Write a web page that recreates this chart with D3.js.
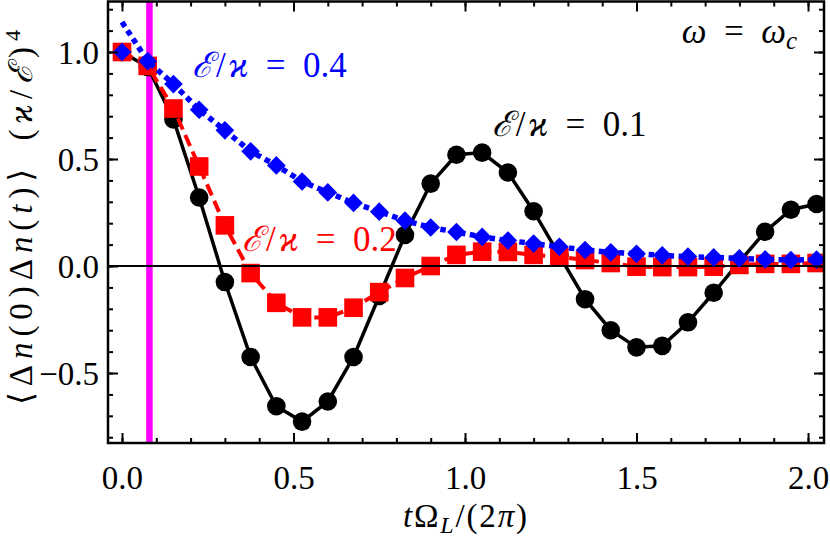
<!DOCTYPE html>
<html>
<head>
<meta charset="utf-8">
<script src="https://cdn.jsdelivr.net/npm/d3@7"></script>
<style>
  body { margin: 0; background: #fff; }
</style>
</head>
<body>
<script>
// time grid t*Omega_L/(2 pi)
var tValues = [0, 0.075, 0.15, 0.225, 0.3, 0.375, 0.45, 0.525, 0.6, 0.675, 0.75, 0.825, 0.9, 0.975,
    1.05, 1.125, 1.2, 1.275, 1.35, 1.425, 1.5, 1.575, 1.65, 1.725, 1.8, 1.875, 1.95, 2.025]

// E/kappa = 0.1 (black circles)
var black01 = [1.0, 0.93, 0.685, 0.32, -0.075, -0.425, -0.655, -0.727, -0.633, -0.425, -0.14, 0.145, 0.385, 0.52,
    0.53, 0.437, 0.256, 0.05, -0.155, -0.3, -0.38, -0.373, -0.263, -0.125, 0.02, 0.16, 0.263, 0.29]

// E/kappa = 0.2 (red squares)
var red02 = [1.0, 0.935, 0.736, 0.465, 0.19, -0.033, -0.172, -0.24, -0.24, -0.195, -0.122, -0.056, 0.0, 0.052,
    0.067, 0.066, 0.052, 0.044, 0.028, 0.014, -0.003, -0.005, -0.005, -0.003, 0.005, 0.01, 0.01, 0.014]

// E/kappa = 0.4 (blue diamonds)
var blue04 = [1.0, 0.957, 0.85, 0.73, 0.634, 0.536, 0.47, 0.395, 0.344, 0.295, 0.254, 0.212, 0.18, 0.159,
    0.136, 0.119, 0.105, 0.09, 0.075, 0.064, 0.057, 0.05, 0.044, 0.04, 0.036, 0.031, 0.028, 0.03]
// the dotted blue curve starts above the first diamond
var blueCurveStart = 1.14

var markerLine = 0.08
var xMajorTicks = [0, 0.5, 1.0, 1.5, 2.0]
var yMajorTicks = [-0.5, 0, 0.5, 1.0]

var FONT = '"Liberation Serif", "DejaVu Serif", serif'
var SP = "\u2002" // en space, for the math-like gaps round "="
var HS = "\u200A" // hair space

var margin = { top: 1.5, right: 6, bottom: 97, left: 108 }
var W = 830, H = 540
var width = W - margin.left - margin.right
var height = H - margin.top - margin.bottom

var xScale = d3.scaleLinear()
    .domain([-0.0408, 2.0466])
    .range([margin.left, margin.left + width])

var yScale = d3.scaleLinear()
    .domain([-0.827, 1.236])
    .range([margin.top + height, margin.top])

var svg = d3.select("body").append("svg")
    .attr("width", W)
    .attr("height", H)

svg.append("defs").append("clipPath").attr("id", "plotclip")
    .append("rect")
    .attr("x", margin.left).attr("y", margin.top)
    .attr("width", width).attr("height", height)

var plot = svg.append("g").attr("clip-path", "url(#plotclip)")

// magenta marker line
plot.append("line")
    .attr("x1", xScale(markerLine)).attr("x2", xScale(markerLine))
    .attr("y1", margin.top).attr("y2", margin.top + height)
    .style("stroke", "#ff00ff")
    .style("stroke-width", 6.5)

var line = d3.line()
    .x(d => xScale(d.t))
    .y(d => yScale(d.v))

function toPoints(vals) {
    return vals.map((v, i) => ({ t: tValues[i], v: v }))
}

// black
plot.append("path")
    .datum(toPoints(black01))
    .attr("d", line)
    .style("fill", "none").style("stroke", "#000").style("stroke-width", 3.5)
plot.selectAll(".circ").data(toPoints(black01)).enter().append("circle")
    .attr("cx", d => xScale(d.t)).attr("cy", d => yScale(d.v))
    .attr("r", 9.3)
    .style("fill", "#000")

// red
plot.append("path")
    .datum(toPoints(red02))
    .attr("d", line)
    .style("fill", "none").style("stroke", "#ff0000").style("stroke-width", 4)
    .style("stroke-dasharray", "12,6")
plot.selectAll(".sq").data(toPoints(red02)).enter().append("rect")
    .attr("x", d => xScale(d.t) - 9.3).attr("y", d => yScale(d.v) - 9.3)
    .attr("width", 18.6).attr("height", 18.6)
    .style("fill", "#ff0000")

// zero line
plot.append("line")
    .attr("x1", margin.left).attr("x2", margin.left + width)
    .attr("y1", yScale(0)).attr("y2", yScale(0))
    .style("stroke", "#000").style("stroke-width", 2)

// blue
var bluePts = toPoints(blue04)
var blueCurve = [{ t: tValues[0], v: blueCurveStart }].concat(bluePts.slice(1))
plot.append("path")
    .datum(blueCurve)
    .attr("d", line)
    .style("fill", "none").style("stroke", "#0000ff").style("stroke-width", 5.5)
    .style("stroke-dasharray", "5.5,4.5")
plot.selectAll(".dia").data(bluePts).enter().append("rect")
    .attr("x", -6.6).attr("y", -6.6)
    .attr("width", 13.2).attr("height", 13.2)
    .attr("transform", d => "translate(" + xScale(d.t) + "," + yScale(d.v) + ") rotate(45)")
    .style("fill", "#0000ff")

// axes with inward ticks on all sides
var fmt = d3.format(".1f")
function styleAxis(g) {
    g.select(".domain").remove()
    g.selectAll(".tick line").style("stroke", "#000").style("stroke-width", 2)
}

var xMinor = xScale.ticks(20)
var yMinor = yScale.ticks(20)

svg.append("g")
    .attr("transform", "translate(0," + (margin.top + height) + ")")
    .call(d3.axisBottom(xScale).tickValues(xMinor).tickSize(-5).tickFormat(""))
    .call(styleAxis)
var xAxis = svg.append("g")
    .attr("transform", "translate(0," + (margin.top + height) + ")")
    .call(d3.axisBottom(xScale).tickValues(xMajorTicks).tickSize(-10).tickFormat(fmt))
    .call(styleAxis)
xAxis.selectAll(".tick text")
    .attr("y", 46).attr("dy", 0)
    .style("font-family", FONT)
    .style("font-size", "33px").style("fill", "#000")

svg.append("g")
    .attr("transform", "translate(0," + margin.top + ")")
    .call(d3.axisTop(xScale).tickValues(xMinor).tickSize(-5).tickFormat(""))
    .call(styleAxis)
svg.append("g")
    .attr("transform", "translate(0," + margin.top + ")")
    .call(d3.axisTop(xScale).tickValues(xMajorTicks).tickSize(-10).tickFormat(""))
    .call(styleAxis)

svg.append("g")
    .attr("transform", "translate(" + margin.left + ",0)")
    .call(d3.axisLeft(yScale).tickValues(yMinor).tickSize(-5).tickFormat(""))
    .call(styleAxis)
var yAxis = svg.append("g")
    .attr("transform", "translate(" + margin.left + ",0)")
    .call(d3.axisLeft(yScale).tickValues(yMajorTicks).tickSize(-10).tickFormat(fmt))
    .call(styleAxis)
yAxis.selectAll(".tick text")
    .attr("x", -9).attr("dy", "0.34em")
    .style("font-family", FONT)
    .style("font-size", "33px").style("fill", "#000")

svg.append("g")
    .attr("transform", "translate(" + (margin.left + width) + ",0)")
    .call(d3.axisRight(yScale).tickValues(yMinor).tickSize(-5).tickFormat(""))
    .call(styleAxis)
svg.append("g")
    .attr("transform", "translate(" + (margin.left + width) + ",0)")
    .call(d3.axisRight(yScale).tickValues(yMajorTicks).tickSize(-10).tickFormat(""))
    .call(styleAxis)

// frame
svg.append("rect")
    .attr("x", margin.left).attr("y", margin.top)
    .attr("width", width).attr("height", height)
    .style("fill", "none").style("stroke", "#000").style("stroke-width", 2.5)

// curve labels
function ratioLabel(x, y, value, color) {
    var t = svg.append("text")
        .attr("x", xScale(x)).attr("y", yScale(y))
        .style("font-family", FONT)
        .style("font-size", "35px").style("fill", color)
    t.append("tspan").style("font-style", "italic").text("ℰ")
    t.append("tspan").text(HS + "/" + HS)
    t.append("tspan").style("font-style", "italic").text("ϰ")
    t.append("tspan").text(SP + "=" + SP + value)
}
ratioLabel(0.204, 0.883, "0.4", "#0000ff")
ratioLabel(0.35, 0.07, "0.2", "#ff0000")
ratioLabel(1.078, 0.607, "0.1", "#000")

var omega = svg.append("text")
    .attr("x", 797).attr("y", 43)
    .attr("text-anchor", "end")
    .style("font-family", FONT)
    .style("font-size", "35px").style("fill", "#000")
omega.append("tspan").style("font-style", "italic").text("ω")
omega.append("tspan").text(SP + "=" + SP)
omega.append("tspan").style("font-style", "italic").text("ω")
omega.append("tspan").style("font-style", "italic").style("font-size", "25px").attr("dy", 6).text("c")

// x label
var xl = svg.append("text")
    .attr("x", 403).attr("y", 527)
    .attr("textLength", 124).attr("lengthAdjust", "spacing")
    .style("font-family", FONT)
    .style("font-size", "33px").style("fill", "#000")
xl.append("tspan").style("font-style", "italic").text("t")
xl.append("tspan").text("Ω")
xl.append("tspan").style("font-style", "italic").style("font-size", "24px").attr("dy", 6).text("L")
xl.append("tspan").attr("dy", -6).text("/(2")
xl.append("tspan").style("font-style", "italic").text("π")
xl.append("tspan").text(")")

// y label
var yl = svg.append("text")
    .attr("transform", "translate(" + 32 + "," + 405 + ") rotate(-90)")
    .attr("textLength", 375).attr("lengthAdjust", "spacing")
    .style("font-family", FONT)
    .style("font-size", "33px").style("fill", "#000")
yl.append("tspan").text("⟨Δ")
yl.append("tspan").style("font-style", "italic").text("n")
yl.append("tspan").text("(0)Δ")
yl.append("tspan").style("font-style", "italic").text("n")
yl.append("tspan").text("(")
yl.append("tspan").style("font-style", "italic").text("t")
yl.append("tspan").text(")⟩" + SP + "(")
yl.append("tspan").style("font-style", "italic").text("ϰ")
yl.append("tspan").text("/")
yl.append("tspan").style("font-style", "italic").text("ℰ")
yl.append("tspan").text(")")
yl.append("tspan").style("font-size", "22px").attr("dy", -12).text("4")
</script>
</body>
</html>
